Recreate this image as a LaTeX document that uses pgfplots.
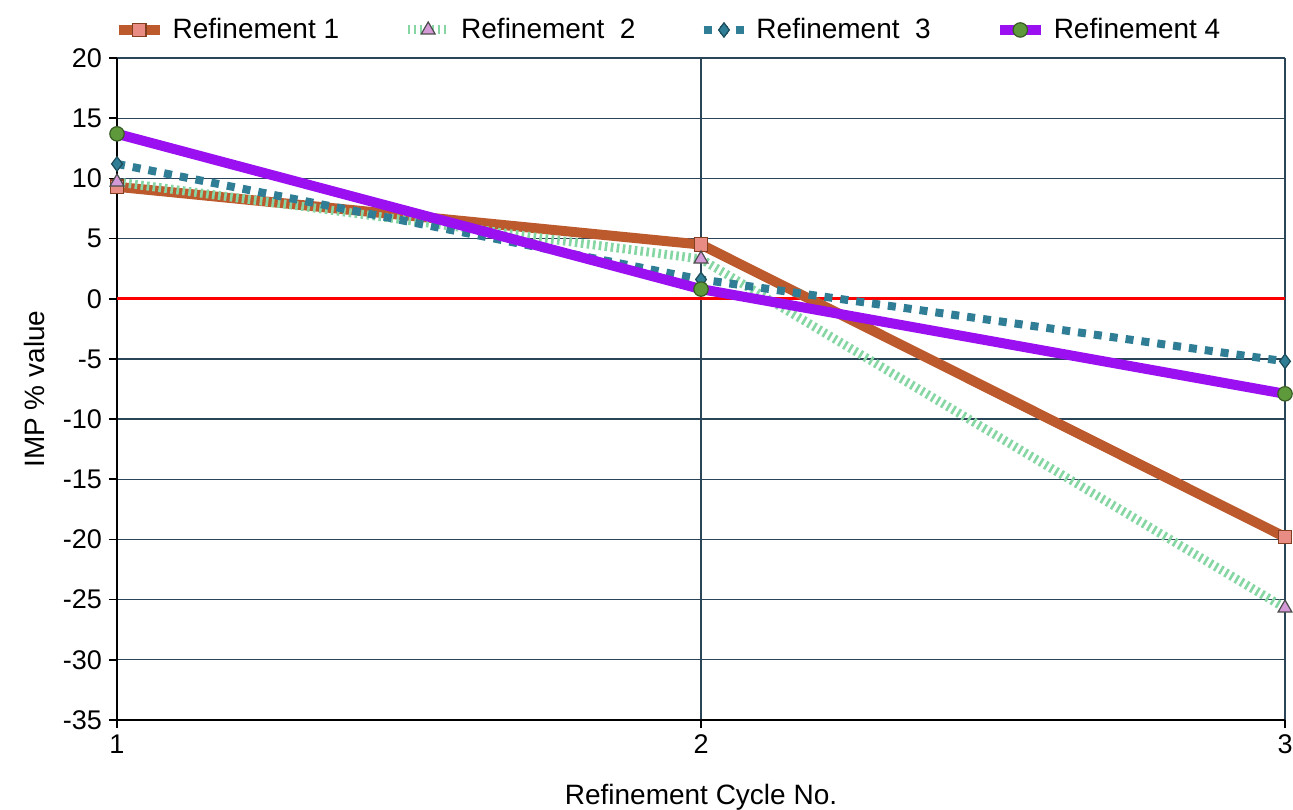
\documentclass[border=0pt]{standalone}
\usepackage{pgfplots}
\pgfplotsset{compat=1.18}
\usepackage{fontspec}
\setmainfont{Liberation Sans}
\definecolor{rOne}{HTML}{BC5A2E}
\definecolor{rOneM}{HTML}{E88C84}
\definecolor{rTwo}{HTML}{86D6A4}
\definecolor{rTwoM}{HTML}{D49AD8}
\definecolor{rThree}{HTML}{2F7E96}
\definecolor{rFour}{HTML}{9B10F0}
\definecolor{rFourM}{HTML}{5E9A3C}
\definecolor{gridc}{HTML}{2A4458}
\begin{document}
\begin{tikzpicture}
\useasboundingbox (-58.5pt,-44.5pt) rectangle (588pt,360pt);
\begin{axis}[
  scale only axis,
  width=584pt, height=331pt,
  xmin=1, xmax=3, ymin=-35, ymax=20,
  xtick={1,2,3}, ytick={-35,-30,...,20},
  axis lines*=left,
  axis line style={line width=1.4pt},
  tick pos=left, tick align=outside,
  major tick length=4pt,
  tick style={black, line width=0.8pt},
  grid=major,
  major grid style={gridc, line width=0.6pt},
  every tick label/.style={font=\fontsize{13.5}{16}\selectfont},
  /pgf/number format/assume math mode=true,
  xlabel={Refinement Cycle No.},
  ylabel={IMP \% value},
  label style={font=\fontsize{14}{16}\selectfont},
  xlabel style={yshift=-8pt},
  ylabel style={yshift=2pt},
  legend columns=4,
  legend style={draw=none, fill=none, at={(0.5,1)}, anchor=south, yshift=4pt, xshift=-16pt,
    font=\fontsize{14}{16}\selectfont, /tikz/every even column/.append style={column sep=30pt},
    /tikz/every odd column/.append style={column sep=2pt}},
  legend cell align=left,
  legend image code/.code={
    \draw[mark repeat=2,mark phase=2] plot coordinates {(0cm,0cm) (0.36cm,0cm) (0.72cm,0cm)};},
  clip=false,
]
\addplot[red, line width=1.6pt, forget plot] coordinates {(1,0) (3,0)};
\addplot[rOne, line width=5pt, mark=square*, mark size=3.4pt,
  mark options={solid, fill=rOneM, draw=rOne!70!black, line width=0.6pt}]
  coordinates {(1,9.3) (2,4.5) (3,-19.8)};
\addlegendentry{Refinement 1}
\addplot[rTwo, line width=4.5pt, dash pattern=on 1.3pt off 1.7pt, mark=triangle*, mark size=4pt,
  mark options={solid, fill=rTwoM, draw=black!70, line width=0.6pt}]
  coordinates {(1,9.7) (2,3.3) (3,-25.7)};
\addlegendentry{Refinement\ \ 2}
\addplot[rThree, line width=4pt, dash pattern=on 4pt off 4pt, mark=diamond*, mark size=3.6pt,
  mark options={solid, fill=rThree, draw=rThree!60!black, line width=0.6pt}]
  coordinates {(1,11.2) (2,1.6) (3,-5.2)};
\addlegendentry{Refinement\ \ 3}
\addplot[rFour, line width=5pt, mark=*, mark size=3.6pt,
  mark options={solid, fill=rFourM, draw=rFourM!60!black, line width=0.6pt}]
  coordinates {(1,13.7) (2,0.8) (3,-7.9)};
\addlegendentry{Refinement 4}
\end{axis}
\end{tikzpicture}
\end{document}
